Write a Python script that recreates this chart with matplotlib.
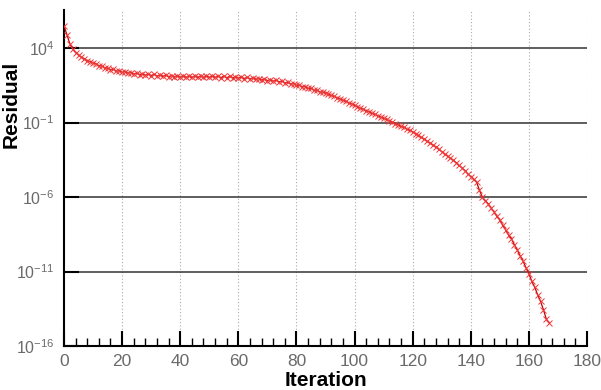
"""
Convergence history: residual against iteration count (log scale).
"""
import matplotlib.pyplot as plt
import numpy as np
from matplotlib.ticker import MultipleLocator, NullLocator

# log10 of the residual, one value per iteration
log_residual = [
    5.50, 4.90, 4.30, 3.95, 3.70, 3.55, 3.38, 3.30, 3.15, 3.10,
    3.00, 2.95, 2.82, 2.80, 2.68, 2.66, 2.56, 2.57, 2.46, 2.48,
    2.38, 2.42, 2.32, 2.36, 2.26, 2.32, 2.22, 2.28, 2.18, 2.26,
    2.16, 2.24, 2.12, 2.20, 2.10, 2.18, 2.08, 2.16, 2.06, 2.15,
    2.04, 2.14, 2.04, 2.13, 2.03, 2.13, 2.03, 2.13, 2.03, 2.13,
    2.03, 2.13, 2.03, 2.12, 2.02, 2.12, 2.01, 2.10, 2.00, 2.08,
    1.98, 2.06, 1.96, 2.03, 1.93, 2.00, 1.90, 1.96, 1.86, 1.92,
    1.82, 1.88, 1.78, 1.84, 1.74, 1.78, 1.66, 1.70, 1.58, 1.62,
    1.50, 1.52, 1.40, 1.42, 1.30, 1.30, 1.18, 1.18, 1.05, 1.06,
    0.98, 0.92, 0.82, 0.76, 0.66, 0.60, 0.50, 0.44, 0.32, 0.26,
    0.15, 0.08, -0.04, -0.10, -0.20, -0.26, -0.38, -0.44, -0.54, -0.62,
    -0.72, -0.78, -0.90, -0.96, -1.08, -1.14, -1.26, -1.32, -1.44, -1.52,
    -1.62, -1.74, -1.86, -2.00, -2.10, -2.26, -2.36, -2.52, -2.62, -2.78,
    -2.95, -3.10, -3.24, -3.40, -3.52, -3.70, -3.88, -4.05, -4.22, -4.45,
    -4.62, -4.82, -5.00, -5.55, -6.00, -6.25, -6.45, -6.75, -7.00, -7.30,
    -7.55, -7.90, -8.20, -8.55, -8.80, -9.20, -9.55, -9.95, -10.30, -10.75,
    -11.15, -11.65, -12.05, -12.55, -13.00, -13.55, -14.20, -14.45,
]
iteration = np.arange(len(log_residual))
residual = 10.0 ** np.array(log_residual)

x_ticks = [0, 20, 40, 60, 80, 100, 120, 140, 160, 180]
y_ticks = [1e-16, 1e-11, 1e-6, 1e-1, 1e4]

plt.rcParams['font.family'] = ['Liberation Sans', 'DejaVu Sans']

fig = plt.figure(figsize=(6.01, 3.90), dpi=100)
ax = fig.add_axes([0.1065, 0.1128, 0.8702, 0.8612])

ax.semilogy(iteration, residual, color='#c00000', lw=0.9,
            marker='x', ms=4.5, mew=0.7, mec='#f03838', zorder=3)

ax.set_xlim(0, 180)
ax.set_ylim(1e-16, 10 ** 6.55)
ax.set_xticks(x_ticks)
ax.xaxis.set_minor_locator(MultipleLocator(4))
ax.set_yticks(y_ticks)
ax.yaxis.set_minor_locator(NullLocator())

# grid: solid dark horizontals, dotted light verticals
for y in y_ticks[1:]:
    ax.axhline(y, color='#333333', lw=1.1, zorder=1)
for x in x_ticks[1:]:
    ax.axvline(x, color='#aaaaaa', lw=0.8, ls=(0, (1, 2)), zorder=0)

for s in ['top', 'right']:
    ax.spines[s].set_visible(False)
for s in ['left', 'bottom']:
    ax.spines[s].set_linewidth(1.5)
    ax.spines[s].set_color('black')

ax.tick_params(axis='both', which='major', direction='in', length=11,
               width=1.5, labelcolor='#6a6a6a')
ax.tick_params(axis='x', which='major', pad=6, labelsize=12.5)
ax.tick_params(axis='y', which='major', pad=7, labelsize=11.5)
ax.tick_params(axis='x', which='minor', direction='in', length=6, width=1.0)

ax.set_xlabel('Iteration', fontsize=15, fontweight='bold', labelpad=1)
ax.set_ylabel('Residual', fontsize=15, fontweight='bold')
ax.yaxis.set_label_coords(-0.082, 0.72)

fig.savefig('out.png', dpi=100)
